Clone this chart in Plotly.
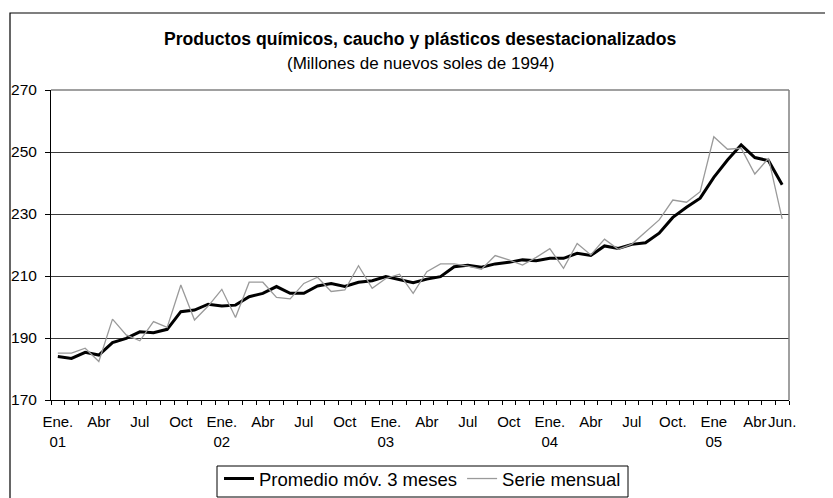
import plotly.graph_objects as go

# Month index 0 = Ene. 2001 ... 53 = Jun. 2005
months = list(range(54))

serie_mensual = [
    185.1, 185.1, 186.7, 182.4, 196.1, 191.0, 189.1, 195.3, 193.4, 207.1, 195.8, 200.3,
    205.7, 196.6, 208.0, 208.0, 203.1, 202.6, 207.6, 209.6, 205.0, 205.5, 213.3, 206.0,
    209.2, 210.6, 204.4, 211.4, 213.9, 213.9, 213.2, 212.2, 216.6, 215.2, 213.5, 216.0,
    218.8, 212.5, 220.5, 216.8, 221.9, 218.6, 220.3, 224.3, 228.1, 234.5, 233.8, 237.2,
    254.9, 250.9, 251.2, 242.9, 248.0, 228.4,
]

promedio_movil = [
    184.0, 183.4, 185.4, 184.5, 188.5, 189.9, 192.0, 191.7, 192.8, 198.5, 199.0, 200.9,
    200.3, 200.6, 203.3, 204.4, 206.6, 204.4, 204.4, 206.8, 207.6, 206.6, 208.0, 208.5,
    209.8, 208.9, 207.8, 209.0, 209.8, 213.0, 213.5, 212.8, 213.9, 214.4, 215.2, 214.9,
    215.7, 215.7, 217.3, 216.6, 219.7, 218.9, 220.2, 220.7, 223.8, 228.9, 232.2, 235.1,
    241.8, 247.4, 252.3, 248.2, 247.2, 239.4,
]

tick_positions = [0, 3, 6, 9, 12, 15, 18, 21, 24, 27, 30, 33, 36, 39, 42, 45, 48, 51, 53]
tick_labels = [
    "Ene.<br>01", "Abr", "Jul", "Oct",
    "Ene.<br>02", "Abr", "Jul", "Oct",
    "Ene.<br>03", "Abr", "Jul", "Oct",
    "Ene.<br>04", "Abr", "Jul", "Oct.",
    "Ene<br>05", "Abr", "Jun.",
]

y_ticks = [170, 190, 210, 230, 250, 270]

FONT = "Liberation Sans, Arial, sans-serif"

fig = go.Figure()
fig.add_trace(go.Scatter(
    x=months, y=promedio_movil, mode="lines", name="Promedio móv. 3 meses",
    line=dict(color="black", width=3),
))
fig.add_trace(go.Scatter(
    x=months, y=serie_mensual, mode="lines", name="Serie mensual",
    line=dict(color="#9a9a9a", width=1.3),
))

# The page body adds an 8px margin; the figure is sized/placed to compensate.
OFF = 8
W, H = 833 - OFF, 498 - OFF
L, R, T, B = 51 - OFF, 789 - OFF, 90 - OFF, 400 - OFF


def px_x(p):
    return (p - OFF - L) / (R - L)


def px_y(p):
    return (B - (p - OFF)) / (B - T)


fig.update_layout(
    width=W, height=H,
    margin=dict(l=L, r=W - R, t=T, b=H - B, autoexpand=False),
    paper_bgcolor="white", plot_bgcolor="white",
    font=dict(family=FONT, color="black", size=15),
    showlegend=True,
    legend=dict(
        orientation="h", xref="container", yref="container",
        x=(422.5 - OFF) / W, xanchor="center", y=1 - (460 - OFF) / H, yanchor="top",
        borderwidth=0, font=dict(size=18.5, family=FONT),
        itemwidth=30, tracegroupgap=0, bgcolor="rgba(0,0,0,0)",
    ),
    xaxis=dict(
        range=[-0.5, 53.5], tickmode="array", tickvals=tick_positions, ticktext=tick_labels,
        ticks="", showgrid=False, zeroline=False, showline=True, linecolor="black", linewidth=1,
        tickfont=dict(size=15), ticklabelstandoff=8, tickangle=0, automargin=False,
        minor=dict(ticks="outside", tick0=-0.5, dtick=1, ticklen=4, tickcolor="black", showgrid=False),
    ),
    yaxis=dict(
        range=[170, 270], tickmode="array", tickvals=y_ticks,
        ticks="outside", ticklen=5, tickcolor="black", ticklabelstandoff=5,
        showgrid=True, gridcolor="#3a3a3a", gridwidth=1, zeroline=False, automargin=False,
        showline=True, linecolor="black", linewidth=1, tickfont=dict(size=15.5),
    ),
    annotations=[
        dict(text="<b>Productos químicos, caucho y plásticos desestacionalizados</b>",
             x=px_x(421), y=px_y(39), xref="paper", yref="paper", showarrow=False,
             xanchor="center", yanchor="middle", font=dict(size=17.6, family=FONT)),
        dict(text="(Millones de nuevos soles de 1994)",
             x=px_x(421), y=px_y(64), xref="paper", yref="paper", showarrow=False,
             xanchor="center", yanchor="middle", font=dict(size=17, family=FONT)),
    ],
    shapes=[
        # outer chart frame (cut off on the right and bottom, as in the original)
        dict(type="rect", xref="paper", yref="paper", x0=px_x(10), x1=px_x(845),
             y0=px_y(515), y1=px_y(13), line=dict(color="black", width=1.2), layer="below"),
        # plot-area border, right and top
        dict(type="line", xref="paper", yref="paper", x0=1, x1=1, y0=0, y1=1,
             line=dict(color="#808080", width=1.5)),
        dict(type="line", xref="paper", yref="paper", x0=0, x1=1, y0=1, y1=1,
             line=dict(color="#808080", width=1.5)),
        # legend frame
        dict(type="rect", xref="paper", yref="paper", x0=px_x(217), x1=px_x(628),
             y0=px_y(497), y1=px_y(466), line=dict(color="black", width=1), layer="below"),
    ],
)

fig.write_html("out.html")
